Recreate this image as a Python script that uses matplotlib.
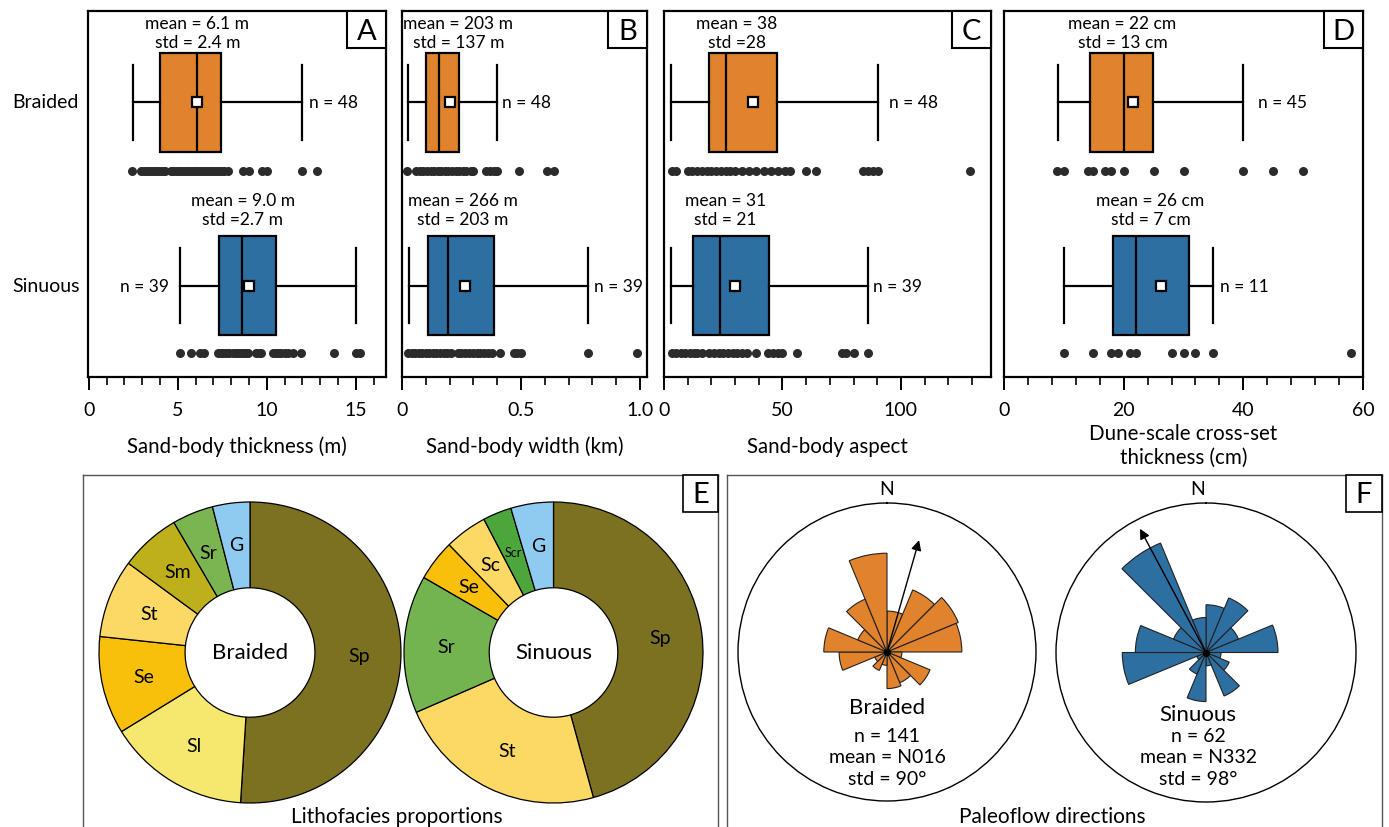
import matplotlib
matplotlib.use('Agg')
import matplotlib.pyplot as plt
from matplotlib.patches import Rectangle
from matplotlib.ticker import MultipleLocator
import numpy as np

plt.rcParams['font.family'] = ['Lato', 'DejaVu Sans']

W, H = 1389, 828
ORANGE = '#E0832C'
BLUE = '#2E6FA1'
DOT = '#2b2b2b'

groups = ['Braided', 'Sinuous']

# ---- A: sand-body thickness (m)   box = whislo, q1, med, q3, whishi
thick_box = [[2.5, 4.0, 6.1, 7.4, 12.0], [5.1, 7.3, 8.6, 10.5, 15.0]]
thick_mean = [6.1, 9.0]
thick_n = [48, 39]
thick_braided = [2.45, 2.95, 3.1, 3.25, 3.4, 3.55, 3.7, 3.85, 4.0, 4.15, 4.3, 4.6,
                 4.75, 4.9, 5.05, 5.2, 5.35, 5.5, 5.65, 5.8, 5.95, 6.1, 6.25, 6.4,
                 6.55, 6.7, 6.85, 7.0, 7.15, 7.3, 7.45, 7.6, 7.8, 8.65, 9.0, 9.75,
                 10.0, 12.0, 12.8]
thick_sinuous = [5.1, 5.75, 6.25, 6.45, 7.25, 7.4, 7.55, 7.7, 7.85, 8.1, 8.25, 8.4,
                 8.55, 8.7, 8.85, 8.95, 9.4, 9.55, 9.7, 10.35, 10.5, 10.65, 10.8,
                 11.0, 11.2, 11.5, 11.95, 13.75, 15.0, 15.25]
thick_text = ['mean = 6.1 m\nstd = 2.4 m', 'mean = 9.0 m\nstd =2.7 m']

# ---- B: sand-body width (km)
width_box = [[0.025, 0.10, 0.155, 0.24, 0.40], [0.03, 0.11, 0.195, 0.385, 0.78]]
width_mean = [0.203, 0.266]
width_n = [48, 39]
width_braided = [0.02, 0.06, 0.075, 0.09, 0.105, 0.12, 0.135, 0.15, 0.165, 0.18,
                 0.195, 0.21, 0.225, 0.24, 0.255, 0.27, 0.29, 0.30, 0.355, 0.37,
                 0.385, 0.40, 0.49, 0.61, 0.64]
width_sinuous = [0.025, 0.04, 0.055, 0.07, 0.085, 0.10, 0.115, 0.13, 0.145, 0.16,
                 0.175, 0.19, 0.205, 0.235, 0.25, 0.265, 0.28, 0.30, 0.315, 0.33,
                 0.345, 0.36, 0.38, 0.41, 0.47, 0.485, 0.50, 0.78, 0.99]
width_text = ['mean = 203 m\nstd = 137 m', 'mean = 266 m\nstd = 203 m']

# ---- C: sand-body aspect
aspect_box = [[3.0, 18.8, 26.3, 47.6, 90.5], [3.0, 12.2, 23.5, 44.3, 86.1]]
aspect_mean = [37.4, 29.9]
aspect_n = [48, 39]
aspect_braided = [3.5, 5.0, 10, 12, 14, 16, 18, 20, 22, 24, 26, 28, 30, 33, 36, 39,
                  42, 45, 48, 51, 53, 60, 64, 84, 86, 88, 90.5, 129]
aspect_sinuous = [3.2, 5, 7, 9, 11, 12.5, 14, 16, 19, 21, 23, 25, 27, 29, 31, 33, 35,
                  39, 44, 46, 48, 50, 56, 75, 77, 80, 86]
aspect_text = ['mean = 38\nstd =28', 'mean = 31\nstd = 21']

# ---- D: dune-scale cross-set thickness (cm)
dune_box = [[9.0, 14.4, 20.0, 24.9, 40.0], [10.0, 18.3, 22.0, 31.0, 35.0]]
dune_mean = [21.6, 26.2]
dune_n = [45, 11]
dune_braided = [8.8, 10.0, 14.0, 14.9, 16.9, 17.9, 20.0, 25.0, 30.0, 39.9, 45.0, 50.0]
dune_sinuous = [10.0, 14.9, 17.9, 19.0, 21.0, 22.0, 28.0, 30.0, 31.9, 35.0, 58.0]
dune_text = ['mean = 22 cm\nstd = 13 cm', 'mean = 26 cm\nstd = 7 cm']

# ---- E: lithofacies proportions (%)
braided_facies = ['Sp', 'Sl', 'Se', 'St', 'Sm', 'Sr', 'G']
braided_pct = [51.0, 15.2, 10.5, 8.4, 6.5, 4.4, 4.0]
braided_cols = ['#7C7120', '#F6E86E', '#F8C00A', '#FCD864', '#BDB01B', '#7AB552', '#8FCBF0']
sinuous_facies = ['Sp', 'St', 'Sr', 'Se', 'Sc', 'Scr', 'G']
sinuous_pct = [45.7, 22.8, 14.8, 4.4, 4.6, 3.1, 4.6]
sinuous_cols = ['#7C7120', '#FCD864', '#74B450', '#F8C00A', '#FCD864', '#4DA63C', '#8FCBF0']

# ---- F: paleoflow rose diagrams (petal length per 22.5 deg sector)
rose_bins = [0, 22.5, 45, 67.5, 90, 112.5, 135, 157.5,
             180, 202.5, 225, 247.5, 270, 292.5, 315, 337.5]
rose_braided = [123, 202, 232, 225, 45, 140, 100, 110, 40, 60, 40, 144, 190, 95, 172, 297]
rose_sinuous = [143, 177, 105, 215, 45, 75, 141, 40, 147, 70, 30, 250, 211, 105, 355, 105]
mean_dir = [16, 332]
mean_len = [350, 420]
rose_text = ['n = 141\nmean = N016\nstd = 90°', 'n = 62\nmean = N332\nstd = 98°']

fig = plt.figure(figsize=(W / 100, H / 100), dpi=100)


def px_axes(x0, y0, x1, y1, **kw):
    return fig.add_axes([x0 / W, 1 - y1 / H, (x1 - x0) / W, (y1 - y0) / H], **kw)


def ftext(x, y, s, **kw):
    kw.setdefault('ha', 'center')
    kw.setdefault('va', 'center')
    return fig.text(x / W, 1 - y / H, s, **kw)


def letter_box(x1, y0, w, h, letter, lw=1.5):
    fig.add_artist(Rectangle(((x1 - w) / W, 1 - (y0 + h) / H), w / W, h / H,
                             transform=fig.transFigure, facecolor='white',
                             edgecolor='black', lw=lw, zorder=10))
    t = ftext(x1 - w / 2, y0 + h / 2 + 1, letter, fontsize=21)
    t.set_zorder(11)


POS = [0.249, 0.751]
DOT_Y = [0.437, 0.934]
TXT_Y = [0.058, 0.543]

panels = [
    dict(rect=(88, 12, 386, 378), xlim=(-0.05, 16.7), ticks=[0, 5, 10, 15],
         labels=['0', '5', '10', '15'], minor=1, xlabel='Sand-body thickness (m)',
         box=thick_box, mean=thick_mean, n=thick_n, pts=[thick_braided, thick_sinuous],
         text=thick_text, tx=[6.1, 8.65], nside=['r', 'l'], ngap=[7, 11], letter='A'),
    dict(rect=(402, 12, 647, 378), xlim=(0, 1.03), ticks=[0, 0.5, 1.0],
         labels=['0', '0.5', '1.0'], minor=0.1, xlabel='Sand-body width (km)',
         box=width_box, mean=width_mean, n=width_n, pts=[width_braided, width_sinuous],
         text=width_text, tx=[0.237, 0.256], nside=['r', 'r'], ngap=[5, 6], letter='B'),
    dict(rect=(664, 12, 991, 378), xlim=(0, 138), ticks=[0, 50, 100],
         labels=['0', '50', '100'], minor=10, xlabel='Sand-body aspect',
         box=aspect_box, mean=aspect_mean, n=aspect_n, pts=[aspect_braided, aspect_sinuous],
         text=aspect_text, tx=[30.8, 26.0], nside=['r', 'r'], ngap=[11, 5], letter='C'),
    dict(rect=(1004, 12, 1363, 378), xlim=(0, 60), ticks=[0, 20, 40, 60],
         labels=['0', '20', '40', '60'], minor=4,
         xlabel='Dune-scale cross-set\nthickness (cm)',
         box=dune_box, mean=dune_mean, n=dune_n, pts=[dune_braided, dune_sinuous],
         text=dune_text, tx=[19.8, 24.5], nside=['r', 'r'], ngap=[15, 7], letter='D'),
]

for p in panels:
    ax = px_axes(*p['rect'])
    stats = [dict(whislo=b[0], q1=b[1], med=b[2], q3=b[3], whishi=b[4], mean=m, fliers=[])
             for b, m in zip(p['box'], p['mean'])]
    bp = ax.bxp(stats, positions=POS, widths=0.27, capwidths=0.205,
                orientation='horizontal', showmeans=True, patch_artist=True,
                manage_ticks=False,
                boxprops=dict(lw=1.6, edgecolor='black'),
                whiskerprops=dict(lw=1.6, color='black'),
                capprops=dict(lw=1.6, color='black'),
                medianprops=dict(lw=1.6, color='black'),
                meanprops=dict(marker='s', markerfacecolor='white',
                               markeredgecolor='black', markersize=6.5,
                               markeredgewidth=1.6))
    for patch, c in zip(bp['boxes'], [ORANGE, BLUE]):
        patch.set_facecolor(c)
    for vals, y in zip(p['pts'], DOT_Y):
        ax.plot(vals, [y] * len(vals), 'o', color=DOT, ms=6.5, mec='none',
                clip_on=False)
    for i in range(2):
        ax.text(p['tx'][i], TXT_Y[i], p['text'][i], ha='center', va='center',
                fontsize=12.5, linespacing=1.2)
        if p['nside'][i] == 'r':
            ax.annotate(f"n = {p['n'][i]}", xy=(p['box'][i][4], POS[i]),
                        xytext=(p['ngap'][i], 0), textcoords='offset pixels',
                        ha='left', va='center', fontsize=12.5)
        else:
            ax.annotate(f"n = {p['n'][i]}", xy=(p['box'][i][0], POS[i]),
                        xytext=(-p['ngap'][i], 0), textcoords='offset pixels',
                        ha='right', va='center', fontsize=12.5)
    ax.set_ylim(1, 0)
    ax.set_xlim(*p['xlim'])
    ax.set_yticks([])
    ax.set_xticks(p['ticks'], p['labels'])
    ax.xaxis.set_minor_locator(MultipleLocator(p['minor']))
    ax.tick_params(axis='x', which='major', direction='out', length=9, width=1.4,
                   labelsize=14, pad=8)
    ax.tick_params(axis='x', which='minor', direction='out', length=5.5, width=1.2)
    for s in ax.spines.values():
        s.set_linewidth(1.6)
    two_lines = '\n' in p['xlabel']
    ax.set_xlabel(p['xlabel'], fontsize=14.8, labelpad=4 if two_lines else 13,
                  linespacing=1.22)
    letter_box(p['rect'][2], p['rect'][1], 39, 37, p['letter'])

ftext(12, 103, groups[0], ha='left', fontsize=14)
ftext(12, 287, groups[1], ha='left', fontsize=14)

# ---- bottom frames
TOP = 476
for (x0, x1), title, cx in [((83, 718), 'Lithofacies proportions', 397),
                            ((727, 1382), 'Paleoflow directions', 1052)]:
    fr = px_axes(x0, TOP, x1, 850)
    fr.set_xticks([])
    fr.set_yticks([])
    for s in fr.spines.values():
        s.set_linewidth(1.0)
        s.set_color('#555555')
    ftext(cx, 817, title, fontsize=15)
letter_box(718, TOP, 35, 37, 'E', lw=1.2)
letter_box(1382, TOP, 36, 37, 'F', lw=1.2)

# ---- E: donuts
for rect, pct, cols, facies, name in [
        ((99, 503, 401, 804), braided_pct, braided_cols, braided_facies, groups[0]),
        ((404, 503, 703, 804), sinuous_pct, sinuous_cols, sinuous_facies, groups[1])]:
    ax = px_axes(*rect)
    wedges, _ = ax.pie(pct, colors=cols, startangle=90, counterclock=False,
                       wedgeprops=dict(width=0.57, edgecolor='black', linewidth=0.9))
    ax.set_xlim(-1.0, 1.0)
    ax.set_ylim(-1.0, 1.0)
    ax.set_aspect('auto')
    for w, lab in zip(wedges, facies):
        ang = np.deg2rad((w.theta1 + w.theta2) / 2)
        ax.text(0.72 * np.cos(ang), 0.72 * np.sin(ang), lab, ha='center',
                va='center', fontsize=9 if lab == 'Scr' else 14)
    ax.text(0, 0, name, ha='center', va='center', fontsize=16)

# ---- F: rose diagrams
for rect, petals, col, d, L, name, txt, cx, ny in [
        ((738, 504, 1036, 802), rose_braided, ORANGE, mean_dir[0], mean_len[0],
         groups[0], rose_text[0], 887, 708),
        ((1056, 504, 1356, 803), rose_sinuous, BLUE, mean_dir[1], mean_len[1],
         groups[1], rose_text[1], 1198, 715)]:
    ax = px_axes(*rect, projection='polar')
    ax.set_theta_zero_location('N')
    ax.set_theta_direction(-1)
    ax.bar(np.deg2rad(np.array(rose_bins) + 11.25), petals, width=np.deg2rad(22.5),
           color=col, edgecolor='#222222', linewidth=0.8)
    ax.annotate('', xy=(np.deg2rad(d), L), xytext=(0, 0),
                arrowprops=dict(arrowstyle='-|>', color='black', lw=1.0,
                                mutation_scale=15, shrinkA=0, shrinkB=0))
    ax.plot(0, 0, 'o', color='black', ms=4)
    ax.set_rlim(0, 448)
    ax.set_aspect('auto')
    ax.grid(False)
    ax.set_xticks([])
    ax.set_yticks([])
    ax.spines['polar'].set_linewidth(1.0)
    ftext(cx, 490, 'N', fontsize=14)
    ftext(cx, ny, name, fontsize=16)
    ftext(cx, 758, txt, fontsize=14, linespacing=1.35)

fig.savefig('out.png', dpi=100)
